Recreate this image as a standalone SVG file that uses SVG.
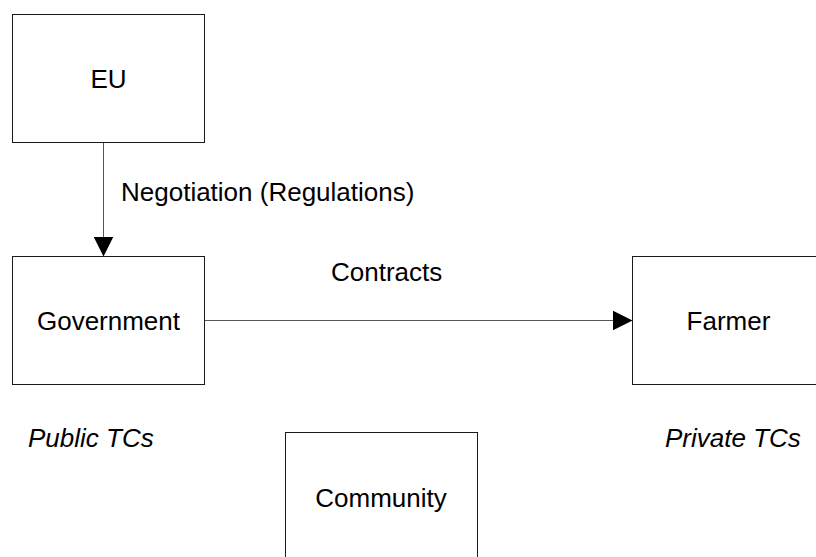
<svg xmlns="http://www.w3.org/2000/svg" width="816" height="557" viewBox="0 0 816 557">
<style>
.box{fill:#fff;stroke:#1a1a1a;stroke-width:1}
.lbl{font-family:"Liberation Sans",Arial,sans-serif;font-size:26px;fill:#000}
.c{text-anchor:middle}
.it{font-style:italic}
.conn{stroke:#555;stroke-width:1;fill:none}
</style>
<defs>
<marker id="ah" markerUnits="userSpaceOnUse" markerWidth="20" markerHeight="20" refX="20" refY="10" orient="auto" viewBox="0 0 20 20">
<path d="M0,0 L20,10 L0,20 Z" fill="#000"/>
</marker>
</defs>
<rect width="816" height="557" fill="#fff"/>
<g id="connectors">
<line class="conn" x1="103.5" y1="142.5" x2="103.5" y2="256.5" marker-end="url(#ah)"/>
<line class="conn" x1="204.5" y1="320.5" x2="632.5" y2="320.5" marker-end="url(#ah)"/>
<text class="lbl" x="121" y="201">Negotiation (Regulations)</text>
<text class="lbl" x="331" y="281">Contracts</text>
</g>
<g id="eu">
<rect class="box" x="12.5" y="14.5" width="192" height="128"/>
<text class="lbl c" x="108.5" y="87.5">EU</text>
</g>
<g id="government">
<rect class="box" x="12.5" y="256.5" width="192" height="128"/>
<text class="lbl c" x="108.5" y="330">Government</text>
</g>
<g id="farmer">
<rect class="box" x="632.5" y="256.5" width="192" height="128"/>
<text class="lbl c" x="728.5" y="330">Farmer</text>
</g>
<g id="community">
<rect class="box" x="285.5" y="432.5" width="192" height="128"/>
<text class="lbl c" x="381" y="506.5">Community</text>
</g>
<g id="notes">
<text class="lbl it" x="28" y="447">Public TCs</text>
<text class="lbl it" x="665" y="447">Private TCs</text>
</g>
</svg>
